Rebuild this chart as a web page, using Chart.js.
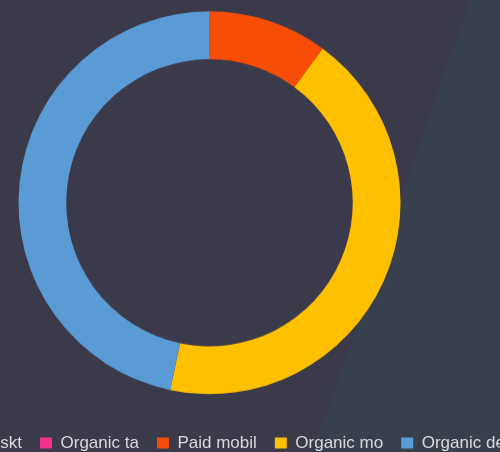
<!DOCTYPE html>
<html>
<head>
<meta charset="utf-8">
<script src="https://cdn.jsdelivr.net/npm/chart.js@4/dist/chart.umd.min.js"></script>
<style>
html, body { margin: 0; padding: 0; }
body { width: 500px; height: 452px; overflow: hidden; position: relative; background: #3b3a4b; }
#shade { position: absolute; left: 0; top: 0; width: 500px; height: 452px; background: #39404d;
  clip-path: polygon(470px 0, 500px 0, 500px 452px, 313px 452px); }
#wrap { position: absolute; left: -140px; top: -11px; width: 699px; height: 471.5px; }
</style>
</head>
<body>
<div id="shade"></div>
<div id="wrap"><canvas id="myChart"></canvas></div>
<script>
const ctx = document.getElementById('myChart');

let labels = ['Paid deskt', 'Organic ta', 'Paid mobil', 'Organic mo', 'Organic de'];
let values = [0, 0, 10.1, 43.2, 46.7];
let colors = ['#2e75b6', '#f5338e', '#f74d06', '#ffc000', '#5b9bd5'];

// nudge the legend a little to the right, the doughnut stays put
const legendNudge = {
	id: 'legendNudge',
	afterLayout(chart) {
		if (chart.legend) {
			chart.legend.left += 4;
			chart.legend.right += 4;
		}
	}
};

new Chart(ctx, {
	type: 'doughnut',
	data: {
		labels: labels,
		datasets: [{
			data: values,
			backgroundColor: colors,
			borderWidth: 0,
			hoverOffset: 0
		}]
	},
	options: {
		responsive: true,
		maintainAspectRatio: false,
		animation: false,
		radius: 191,
		cutout: '75%',
		layout: { padding: 0 },
		plugins: {
			tooltip: { enabled: false },
			legend: {
				position: 'bottom',
				labels: {
					boxWidth: 12,
					boxHeight: 11,
					padding: 18,
					color: '#d9d9d9',
					font: { family: 'Liberation Sans', size: 17 }
				}
			}
		}
	},
	plugins: [legendNudge]
});
</script>
</body>
</html>
